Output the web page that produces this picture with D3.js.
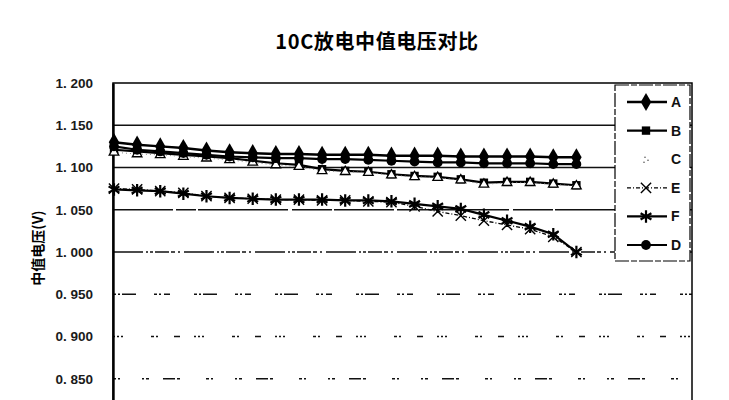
<!DOCTYPE html>
<html>
<head>
<meta charset="utf-8">
<script src="https://cdn.jsdelivr.net/npm/d3@7"></script>
<style>
  body { margin: 0; background: #fff; }
  text { font-family: "Liberation Sans", "Noto Sans CJK SC", sans-serif; }
</style>
</head>
<body>
<script>
// values (discharge index 1..21)
const categories = [1, 2, 3, 4, 5, 6, 7, 8, 9, 10, 11, 12, 13, 14, 15, 16, 17, 18, 19, 20, 21];
const seriesNames = ["A", "B", "C", "E", "F", "D"];
const valuesA = [1.130, 1.127, 1.125, 1.123, 1.120, 1.118, 1.117, 1.116, 1.116, 1.115, 1.115, 1.115, 1.114, 1.114, 1.114, 1.113, 1.113, 1.113, 1.113, 1.112, 1.112];
const valuesB = [1.121, 1.119, 1.117, 1.115, 1.113, 1.111, 1.108, 1.105, 1.103, 1.098, 1.096, 1.095, 1.092, 1.090, 1.089, 1.086, 1.082, 1.083, 1.083, 1.081, 1.079];
const valuesC = [1.118, 1.116, 1.115, 1.113, 1.111, 1.109, 1.106, 1.103, 1.101, 1.096, 1.095, 1.094, 1.091, 1.089, 1.088, 1.085, 1.080, 1.082, 1.082, 1.080, 1.078];
const valuesE = [1.075, 1.074, 1.072, 1.070, 1.066, 1.064, 1.063, 1.062, 1.062, 1.061, 1.061, 1.060, 1.059, 1.054, 1.048, 1.043, 1.037, 1.032, 1.027, 1.018, 1.000];
const valuesF = [1.074, 1.073, 1.072, 1.069, 1.066, 1.064, 1.063, 1.062, 1.062, 1.062, 1.061, 1.061, 1.060, 1.057, 1.054, 1.051, 1.044, 1.037, 1.030, 1.021, 1.000];
const valuesD = [1.125, 1.121, 1.119, 1.117, 1.115, 1.113, 1.112, 1.111, 1.111, 1.110, 1.110, 1.109, 1.108, 1.107, 1.106, 1.106, 1.105, 1.105, 1.105, 1.104, 1.104];
const yTicks = [0.85, 0.90, 0.95, 1.00, 1.05, 1.10, 1.15, 1.20];

const titleText = "10C放电中值电压对比";
const yTitle = "中值电压(V)";

const W = 729, H = 400;
// plot runs on below the photographed window, as in the cropped scan
const plot = { left: 113, top: 83, right: 692, bottom: 421 };

var svg = d3.select("body").append("svg").attr("width", W).attr("height", H);

var x = d3.scaleLinear().domain([1, 26]).range([plot.left + 1, plot.right]);
var y = d3.scaleLinear().domain([0.80, 1.20]).range([plot.bottom, plot.top]);

// gridlines - the scan breaks the lower ones up into dashes
function gridDash(v) {
  if (v >= 1.099) return null;
  if (v >= 1.049) return "60,3,20,2,90,4,40,2";
  if (v >= 0.999) return "30,3,2,2,3,2,14,2,4,3,2,4";
  if (v >= 0.949) return "3,2,2,2,14,18,3,2,2,3,6,24";
  if (v >= 0.899) return "2,2,2,2,2,28,3,2,2,16,6,14";
  return "3,2,2,22,2,2,3,14,12,2,3,26";
}
svg.append("g").selectAll("line").data(yTicks.filter(v => v < 1.2)).join("line")
  .attr("x1", plot.left).attr("x2", plot.right)
  .attr("y1", d => y(d)).attr("y2", d => y(d))
  .attr("stroke", "#111").attr("stroke-width", 1.3)
  .attr("stroke-dasharray", d => gridDash(d));

// plot frame
svg.append("rect")
  .attr("x", plot.left).attr("y", plot.top)
  .attr("width", plot.right - plot.left).attr("height", plot.bottom - plot.top)
  .attr("fill", "none").attr("stroke", "#000").attr("stroke-width", 1.5);

// y axis
var yAxis = d3.axisLeft(y).tickValues(yTicks).tickSize(0).tickPadding(20)
  .tickFormat(d => d3.format(".3f")(d).replace(".", ". "));
var gy = svg.append("g").attr("transform", "translate(" + plot.left + ",0)").call(yAxis);
gy.select(".domain").attr("stroke", "#000").attr("stroke-width", 2.4);
gy.selectAll("text").attr("font-size", 13.5).attr("font-weight", "bold").attr("fill", "#1a1a1a")
  .attr("font-family", "'Liberation Sans', sans-serif");

// titles
svg.append("text").attr("x", 377).attr("y", 49).attr("text-anchor", "middle")
  .attr("font-size", 20).attr("font-weight", "bold").attr("letter-spacing", 0.6)
  .style("font-family", "'Noto Sans CJK SC', sans-serif").text(titleText);
svg.append("text").attr("transform", "translate(43,248) rotate(-90)")
  .attr("text-anchor", "middle").attr("font-size", 14).attr("font-weight", "bold")
  .style("font-family", "'Noto Sans CJK SC', sans-serif").text(yTitle);

// series styles
const styles = {
  A: { symbol: d3.symbolDiamond, size: 95, fill: "#000", width: 2.5, dash: null, color: "#000" },
  B: { symbol: d3.symbolSquare, size: 70, fill: "#000", width: 2.2, dash: null, color: "#000" },
  C: { symbol: d3.symbolTriangle, size: 40, fill: "#fff", width: 1, dash: "1,3", color: "#888" },
  E: { symbol: d3.symbolTimes, size: 70, fill: "none", width: 1.3, dash: "4,2,1,2", color: "#000" },
  F: { symbol: d3.symbolAsterisk, size: 110, fill: "none", width: 2.2, dash: null, color: "#000" },
  D: { symbol: d3.symbolCircle, size: 75, fill: "#000", width: 2.2, dash: null, color: "#000" }
};
const seriesValues = { A: valuesA, B: valuesB, C: valuesC, E: valuesE, F: valuesF, D: valuesD };
const drawOrder = ["B", "C", "E", "F", "D", "A"];

var line = d3.line().x(d => x(d[0])).y(d => y(d[1]));

function drawMarker(g, name, px, py) {
  var s = styles[name];
  var p = g.append("path").attr("d", d3.symbol(s.symbol, s.size)())
    .attr("transform", "translate(" + px + "," + py + ")");
  if (name === "C") {
    p.attr("fill", "#fff").attr("stroke", "#000").attr("stroke-width", 1.3);
  } else if (s.fill === "none") {
    p.attr("fill", "none").attr("stroke", "#000").attr("stroke-width", name === "F" ? 2.2 : 1.4);
  } else {
    p.attr("fill", s.fill);
  }
}

var gSeries = svg.append("g");
for (const name of drawOrder) {
  var s = styles[name];
  var pts = categories.map((c, i) => [c, seriesValues[name][i]]);
  gSeries.append("path").datum(pts).attr("d", line)
    .attr("fill", "none").attr("stroke", s.color).attr("stroke-width", s.width)
    .attr("stroke-dasharray", s.dash);
  var gm = gSeries.append("g");
  for (const p of pts) {
    drawMarker(gm, name, x(p[0]), y(p[1]));
  }
}

// legend
var legend = svg.append("g");
legend.append("rect").attr("x", 615).attr("y", 85).attr("width", 75).attr("height", 176)
  .attr("fill", "#fff").attr("stroke", "#000").attr("stroke-width", 1.2)
  .attr("stroke-dasharray", "14,2,6,2");
seriesNames.forEach((name, i) => {
  var ly = 102 + i * 28.6;
  var s = styles[name];
  if (name !== "C") {
    legend.append("line").attr("x1", 627).attr("x2", 667).attr("y1", ly).attr("y2", ly)
      .attr("stroke", s.color).attr("stroke-width", s.width).attr("stroke-dasharray", s.dash);
    drawMarker(legend, name, 646, ly);
  } else {
    legend.append("circle").attr("cx", 645).attr("cy", ly - 2).attr("r", 0.8).attr("fill", "#555");
    legend.append("circle").attr("cx", 648).attr("cy", ly + 1).attr("r", 0.8).attr("fill", "#555");
    legend.append("circle").attr("cx", 644).attr("cy", ly + 3).attr("r", 0.8).attr("fill", "#555");
  }
  legend.append("text").attr("x", 671).attr("y", ly + 5).attr("font-size", 14)
    .attr("font-weight", "bold").attr("fill", "#111").text(name);
});
</script>
</body>
</html>
